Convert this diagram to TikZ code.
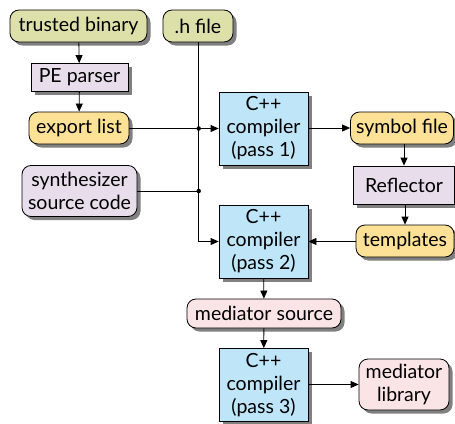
\documentclass[tikz,border=0pt]{standalone}
\usepackage{fontspec}
\setmainfont{Lato}
\usetikzlibrary{arrows.meta,shadows}
\definecolor{olivef}{RGB}{222,224,170}
\definecolor{yellowf}{RGB}{253,225,150}
\definecolor{lavf}{RGB}{231,221,235}
\definecolor{bluef}{RGB}{190,230,248}
\definecolor{pinkf}{RGB}{250,228,230}
\tikzset{
  base/.style={draw=black, line width=0.8pt, align=center, inner sep=0pt,
    font=\fontsize{19.5}{23}\selectfont,
    drop shadow={shadow xshift=3.5pt, shadow yshift=-3.5pt, fill=black!50, opacity=1}},
  rbox/.style={base, rounded corners=9pt},
  sbox/.style={base},
  conn/.style={line width=0.8pt, -{Triangle[length=8pt,width=7pt]}},
  line/.style={line width=0.8pt},
  jdot/.style={circle, fill=black, inner sep=0pt, minimum size=4.5pt},
}
\begin{document}
\begin{tikzpicture}[x=1pt,y=-1pt]
\useasboundingbox (0,0) rectangle (455,423);
\node[rbox, fill=olivef, minimum width=137pt, minimum height=32pt] (tb) at (78.5,26) {trusted binary};
\node[rbox, fill=olivef, minimum width=70pt, minimum height=32pt] (h) at (198,26) {.h file};
\node[sbox, fill=lavf, minimum width=97pt, minimum height=28pt] (pe) at (79.5,77.5) {PE parser};
\node[rbox, fill=yellowf, minimum width=100pt, minimum height=32pt] (el) at (79,128) {export list};
\node[rbox, fill=lavf, minimum width=115pt, minimum height=51pt] (ssc) at (79.5,191) {synthesizer\\source code};
\node[sbox, fill=bluef, minimum width=89pt, minimum height=73pt] (c1) at (263.5,128.5) {C++\\compiler\\(pass 1)};
\node[rbox, fill=yellowf, minimum width=103pt, minimum height=32pt] (sf) at (402,128) {symbol file};
\node[sbox, fill=lavf, minimum width=101pt, minimum height=38pt] (rf) at (404,185) {Reflector};
\node[rbox, fill=yellowf, minimum width=98pt, minimum height=32pt] (tp) at (405,241) {templates};
\node[sbox, fill=bluef, minimum width=89pt, minimum height=73pt] (c2) at (263.5,241.5) {C++\\compiler\\(pass 2)};
\node[rbox, fill=pinkf, minimum width=154pt, minimum height=29pt] (ms) at (264,313.5) {mediator source};
\node[sbox, fill=bluef, minimum width=89pt, minimum height=73pt] (c3) at (263.5,385) {C++\\compiler\\(pass 3)};
\node[rbox, fill=pinkf, minimum width=90pt, minimum height=51pt] (ml) at (404,384.5) {mediator\\library};
\coordinate (j1) at (198.7,128.5);
\coordinate (j2) at (198.7,191);
\coordinate (j3) at (198.7,241.5);
\draw[conn] (tb) -- (pe);
\draw[conn] (pe) -- (el);
\draw[conn] (el.east |- c1) -- (c1.west);
\draw[line] (h.south -| j1) -- (j3);
\draw[conn] (j3) -- (c2.west);
\draw[line] (ssc.east |- j2) -- (j2);
\node[jdot] (d1) at (j1) {};
\node[jdot] (d2) at (j2) {};
\draw[conn] (c1.east |- sf) -- (sf.west);
\draw[conn] (sf.south -| rf) -- (rf.north);
\draw[conn] (rf.south -| tp) -- (tp.north);
\draw[conn] (tp.west |- c2) -- (c2.east);
\draw[conn] (c2) -- (ms);
\draw[conn] (ms) -- (c3);
\draw[conn] (c3.east |- ml) -- (ml.west);
\end{tikzpicture}
\end{document}
